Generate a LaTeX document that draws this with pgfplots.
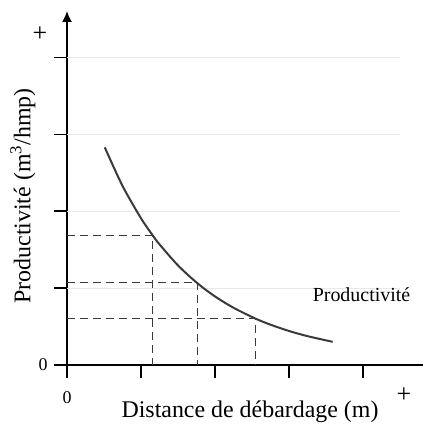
\documentclass[border=0pt]{standalone}
\usepackage{fontspec}
\setmainfont{Liberation Serif}
\usepackage{pgfplots}
\pgfplotsset{compat=1.18}
\usetikzlibrary{arrows.meta}
\definecolor{curve}{HTML}{3A3A3A}
\definecolor{grid}{HTML}{E8E8E8}

\begin{document}
\begin{tikzpicture}[x=1bp,y=1bp]
\useasboundingbox[fill=white] (0,0) rectangle (423,427);
\begin{axis}[
    at={(67bp,62bp)}, anchor=south west,
    scale only axis,
    width=370bp, height=354bp,
    xmin=0, xmax=5, ymin=0, ymax=4.6,
    axis lines=left,
    axis line style={line width=1.6pt, -{Latex[length=11bp,width=10bp]}},
    xtick={0,1,2,3,4}, ytick={0,1,2,3,4},
    xticklabels={0,,,,}, yticklabels={0,,,,},
    tick align=outside,
    major tick length=13bp,
    tick style={line width=1.2pt, black},
    tick label style={font=\fontsize{18}{20}\selectfont},
    xticklabel style={yshift=-10bp},
    yticklabel style={xshift=-3bp},
    clip=false,
]
\foreach \g in {1,2,3,4} {
  \edef\tmp{\noexpand\draw[grid, line width=1pt] (axis cs:0,\g) -- (axis cs:4.5,\g);}
  \tmp
}
% guide lines to the curve
\addplot[curve, line width=0.9pt, dash pattern=on 8bp off 5bp] coordinates {(0,1.68) (1.16,1.68) (1.16,0)};
\addplot[curve, line width=0.9pt, dash pattern=on 8bp off 5bp] coordinates {(0,1.07) (1.76,1.07) (1.76,0)};
\addplot[curve, line width=0.9pt, dash pattern=on 8bp off 5bp] coordinates {(0,0.61) (2.54,0.61) (2.54,0)};
% productivity curve
\addplot[curve, line width=2pt, smooth] coordinates {
  (0.51,2.829) (0.75,2.328) (1.00,1.907) (1.16,1.682) (1.25,1.568)
  (1.50,1.294) (1.76,1.064) (2.00,0.891) (2.25,0.744) (2.54,0.606)
  (2.75,0.524) (3.00,0.442) (3.25,0.375) (3.59,0.301)
};
\node[font=\fontsize{20}{22}\selectfont] at (axis cs:3.98,0.91) {Productivité};
\end{axis}
\node[font=\fontsize{24}{26}\selectfont] at (250,15) {Distance de débardage (m)};
\node[font=\fontsize{24}{26}\selectfont, rotate=90] at (23,231) {Productivité (m\textsuperscript{3}/hmp)};
\node[font=\fontsize{26}{28}\selectfont] at (40,393) {+};
\node[font=\fontsize{26}{28}\selectfont] at (404,32) {+};
\end{tikzpicture}
\end{document}
